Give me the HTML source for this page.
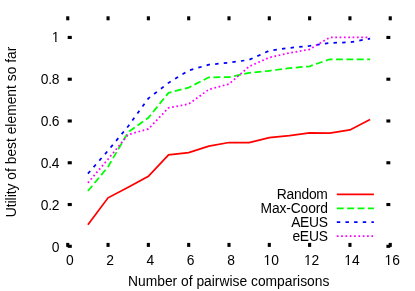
<!DOCTYPE html>
<html><head><meta charset="utf-8"><title>plot</title>
<style>
html,body{margin:0;padding:0;background:#fff;}
body{width:415px;height:291px;overflow:hidden;}
svg{display:block;will-change:transform;}
text{font-family:"Liberation Sans",sans-serif;font-size:13.83px;fill:#000;}
</style></head><body>
<svg width="415" height="291" viewBox="0 0 415 291">
<rect x="0" y="0" width="415" height="291" fill="#fff"/>
<g fill="#000">
<rect x="66.20" y="242.90" width="3.10" height="4.00"/>
<rect x="66.20" y="16.30" width="3.10" height="4.00"/>
<rect x="106.51" y="242.90" width="3.10" height="4.00"/>
<rect x="106.51" y="16.30" width="3.10" height="4.00"/>
<rect x="146.82" y="242.90" width="3.10" height="4.00"/>
<rect x="146.82" y="16.30" width="3.10" height="4.00"/>
<rect x="187.14" y="242.90" width="3.10" height="4.00"/>
<rect x="187.14" y="16.30" width="3.10" height="4.00"/>
<rect x="227.45" y="242.90" width="3.10" height="4.00"/>
<rect x="227.45" y="16.30" width="3.10" height="4.00"/>
<rect x="267.76" y="242.90" width="3.10" height="4.00"/>
<rect x="267.76" y="16.30" width="3.10" height="4.00"/>
<rect x="308.07" y="242.90" width="3.10" height="4.00"/>
<rect x="308.07" y="16.30" width="3.10" height="4.00"/>
<rect x="348.39" y="242.90" width="3.10" height="4.00"/>
<rect x="348.39" y="16.30" width="3.10" height="4.00"/>
<rect x="388.70" y="242.90" width="3.10" height="4.00"/>
<rect x="388.70" y="16.30" width="3.10" height="4.00"/>
<rect x="67.70" y="244.75" width="4.10" height="3.10"/>
<rect x="386.40" y="244.75" width="3.90" height="3.10"/>
<rect x="67.70" y="202.98" width="4.10" height="3.10"/>
<rect x="386.40" y="202.98" width="3.90" height="3.10"/>
<rect x="67.70" y="161.21" width="4.10" height="3.10"/>
<rect x="386.40" y="161.21" width="3.90" height="3.10"/>
<rect x="67.70" y="119.44" width="4.10" height="3.10"/>
<rect x="386.40" y="119.44" width="3.90" height="3.10"/>
<rect x="67.70" y="77.67" width="4.10" height="3.10"/>
<rect x="386.40" y="77.67" width="3.90" height="3.10"/>
<rect x="67.70" y="35.90" width="4.10" height="3.10"/>
<rect x="386.40" y="35.90" width="3.90" height="3.10"/>
</g>
<text x="69.75" y="265.2" text-anchor="middle">0</text>
<text x="110.06" y="265.2" text-anchor="middle">2</text>
<text x="150.38" y="265.2" text-anchor="middle">4</text>
<text x="190.69" y="265.2" text-anchor="middle">6</text>
<text x="231.00" y="265.2" text-anchor="middle">8</text>
<text x="271.31" y="265.2" text-anchor="middle">10</text>
<text x="311.62" y="265.2" text-anchor="middle">12</text>
<text x="351.94" y="265.2" text-anchor="middle">14</text>
<text x="392.25" y="265.2" text-anchor="middle">16</text>
<text x="59.3" y="252.00" text-anchor="end" letter-spacing="-0.2">0</text>
<text x="59.3" y="210.00" text-anchor="end" letter-spacing="-0.2">0.2</text>
<text x="59.3" y="168.00" text-anchor="end" letter-spacing="-0.2">0.4</text>
<text x="59.3" y="126.00" text-anchor="end" letter-spacing="-0.2">0.6</text>
<text x="59.3" y="84.00" text-anchor="end" letter-spacing="-0.2">0.8</text>
<text x="59.3" y="42.00" text-anchor="end" letter-spacing="-0.2">1</text>
<rect x="52.26" y="40.70" width="2.97" height="1.6" fill="#fff"/>
<rect x="56.56" y="40.70" width="2.87" height="1.6" fill="#fff"/>
<rect x="264.07" y="263.90" width="2.97" height="1.6" fill="#fff"/>
<rect x="268.37" y="263.90" width="2.87" height="1.6" fill="#fff"/>
<rect x="304.39" y="263.90" width="2.97" height="1.6" fill="#fff"/>
<rect x="308.68" y="263.90" width="2.87" height="1.6" fill="#fff"/>
<rect x="344.70" y="263.90" width="2.97" height="1.6" fill="#fff"/>
<rect x="349.00" y="263.90" width="2.87" height="1.6" fill="#fff"/>
<rect x="385.01" y="263.90" width="2.97" height="1.6" fill="#fff"/>
<rect x="389.31" y="263.90" width="2.87" height="1.6" fill="#fff"/>
<text x="228.7" y="286.0" text-anchor="middle">Number of pairwise comparisons</text>
<text transform="translate(15.8,132.0) rotate(-90)" text-anchor="middle">Utility of best element so far</text>
<g fill="none" stroke-width="1.75" stroke-linejoin="miter" stroke-linecap="butt">
<path d="M87.91,224.79 L108.06,197.85 L128.22,187.20 L148.38,176.34 L168.53,154.82 L188.69,152.53 L208.84,146.05 L229.00,142.50 L249.16,142.50 L269.31,137.70 L289.47,135.61 L309.62,132.89 L329.78,133.10 L349.94,129.97 L370.09,119.53" stroke="#ff0000"/>
<path d="M87.91,191.06 L108.06,166.73 L128.22,132.16 L148.38,117.75 L168.53,92.86 L188.69,87.57 L208.84,77.34 L229.00,77.13 L249.16,72.95 L269.31,70.76 L289.47,68.15 L309.62,66.27 L329.78,59.27 L349.94,59.27 L370.09,59.27" stroke="#00ff00" stroke-dasharray="6.92 3.46"/>
<path d="M87.91,173.62 L108.06,150.54 L128.22,126.21 L148.38,98.43 L168.53,82.87 L188.69,70.45 L208.84,64.66 L229.00,62.72 L249.16,59.80 L269.31,50.71 L289.47,47.89 L309.62,45.91 L329.78,42.92 L349.94,42.36 L370.09,38.60" stroke="#0000ff" stroke-dasharray="3.46 5.19"/>
<path d="M87.91,182.81 L108.06,159.13 L128.22,134.57 L148.38,128.93 L168.53,107.83 L188.69,104.07 L208.84,89.45 L229.00,84.02 L249.16,66.48 L269.31,57.50 L289.47,52.90 L309.62,49.31 L329.78,37.45 L349.94,37.35 L370.09,37.35" stroke="#ff00ff" stroke-dasharray="1.73 2.59"/>
<path d="M336.80,194.30 L373.90,194.30" stroke="#ff0000"/>
<path d="M336.80,208.40 L373.90,208.40" stroke="#00ff00" stroke-dasharray="6.92 3.46"/>
<path d="M336.80,222.00 L373.90,222.00" stroke="#0000ff" stroke-dasharray="3.46 5.19"/>
<path d="M336.80,236.00 L373.90,236.00" stroke="#ff00ff" stroke-dasharray="1.73 2.59"/>
</g>
<text x="327.68" y="199.00" text-anchor="end" letter-spacing="-0.22">Random</text>
<text x="327.77" y="213.10" text-anchor="end" letter-spacing="-0.13">Max-Coord</text>
<text x="327.60" y="226.70" text-anchor="end" letter-spacing="-0.30">AEUS</text>
<text x="327.69" y="240.70" text-anchor="end" letter-spacing="-0.21">eEUS</text>
</svg></body></html>
